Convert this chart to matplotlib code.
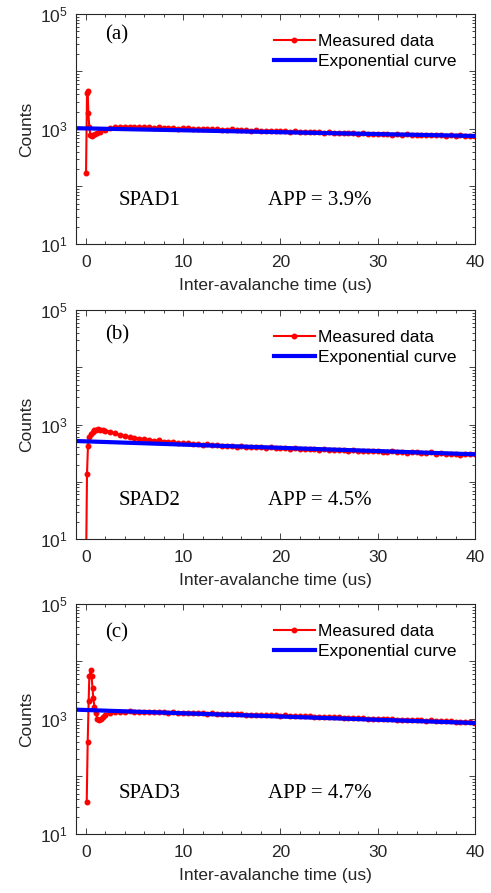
import numpy as np
import matplotlib.pyplot as plt
from matplotlib.ticker import FixedLocator, FuncFormatter, LogLocator, MultipleLocator

plt.rcParams['font.family'] = ['Liberation Sans', 'DejaVu Sans']
plt.rcParams['mathtext.fontset'] = 'custom'
plt.rcParams['mathtext.rm'] = 'Liberation Sans'

# sampling grid of the tail (us), shared by all panels
t_tail = np.arange(2.0, 40.01, 0.5)

# SPAD1
t_early_a = [0.03, 0.13, 0.2, 0.27, 0.37, 0.47, 0.6, 0.75, 0.95, 1.2, 1.5]
n_early_a = [172, 4200, 4600, 1870, 1070, 800, 765, 790, 820, 850, 900]
n_tail_a = [960, 1020, 1060, 1085, 1100, 1090, 1075, 1090, 1065, 1070,
            1045, 1065, 1040, 1030, 1050, 1015, 1030, 1020, 1010, 995,
            1010, 985, 1000, 980, 975, 965, 980, 950, 960, 950,
            935, 950, 930, 920, 935, 910, 915, 905, 900, 910,
            885, 895, 870, 885, 875, 860, 870, 850, 860, 845,
            850, 840, 830, 845, 825, 830, 815, 825, 810, 800,
            815, 795, 805, 785, 800, 790, 780, 790, 770, 785,
            765, 775, 760, 770, 750, 760, 765]
fit_a = [1030, 755]

# SPAD2
t_early_b = [0.03, 0.13, 0.23, 0.35, 0.5, 0.7, 0.9, 1.1, 1.3, 1.5, 1.75]
n_early_b = [3, 137, 430, 600, 680, 740, 790, 815, 825, 815, 800]
n_tail_b = [780, 750, 700, 665, 630, 600, 585, 570, 555, 545,
            525, 530, 505, 500, 490, 480, 470, 475, 455, 460,
            445, 450, 435, 440, 425, 430, 420, 410, 420, 405,
            410, 400, 405, 395, 400, 390, 395, 385, 380, 390,
            375, 380, 370, 375, 365, 370, 360, 365, 355, 360,
            350, 355, 345, 350, 340, 345, 340, 335, 330, 340,
            330, 335, 320, 330, 325, 320, 315, 325, 310, 315,
            310, 305, 310, 295, 300, 305, 300]
fit_b = [515, 302]

# SPAD3
t_early_c = [0.1, 0.2, 0.3, 0.37, 0.5, 0.6, 0.7, 0.77, 0.9, 1.05, 1.2, 1.35, 1.55, 1.8]
n_early_c = [36, 390, 2080, 5500, 7000, 5500, 3400, 2300, 1620, 1270, 1000, 960, 1010, 1080]
n_tail_c = [1150, 1250, 1300, 1320, 1340, 1350, 1345, 1330, 1340, 1320,
            1325, 1300, 1310, 1290, 1300, 1280, 1270, 1285, 1260, 1265,
            1250, 1240, 1255, 1230, 1220, 1235, 1210, 1215, 1200, 1195,
            1180, 1190, 1170, 1160, 1175, 1150, 1145, 1155, 1130, 1125,
            1120, 1105, 1115, 1090, 1095, 1080, 1070, 1080, 1060, 1055,
            1050, 1040, 1030, 1035, 1015, 1010, 1000, 1005, 985, 990,
            975, 965, 970, 950, 955, 940, 935, 945, 920, 925,
            910, 905, 895, 900, 880, 875, 865]
fit_c = [1450, 850]

fit_t = [-1, 40]
letters = ['(a)', '(b)', '(c)']
names = ['SPAD1', 'SPAD2', 'SPAD3']
apps = ['APP = 3.9%', 'APP = 4.5%', 'APP = 4.7%']

panels = [
    (t_early_a, n_early_a, n_tail_a, fit_a),
    (t_early_b, n_early_b, n_tail_b, fit_b),
    (t_early_c, n_early_c, n_tail_c, fit_c),
]

# axes rectangles in figure fractions
rects = [[0.1548, 0.7268, 0.8126, 0.2576],
         [0.1548, 0.3964, 0.8126, 0.2564],
         [0.1548, 0.0661, 0.8126, 0.2576]]
letter_y = [0.91, 0.89, 0.874]
name_y = [0.19, 0.17, 0.174]

serif = ['Liberation Serif', 'DejaVu Serif']
ink = '#262626'


def decade_label(v, pos):
    e = int(round(np.log10(v)))
    if e % 2 == 1:
        return r'$\mathregular{10^{%d}}$' % e
    return ''


fig = plt.figure(figsize=(4.91, 8.93), dpi=100)

for i, (te, ne, nt, fit) in enumerate(panels):
    ax = fig.add_axes(rects[i])
    t = np.concatenate([te, t_tail])
    n = np.concatenate([ne, nt])
    ax.plot(t, n, color='red', lw=1.5, marker='.', ms=6.5, label='Measured data')
    ax.plot(fit_t, fit, color='blue', lw=3, label='Exponential curve')

    ax.set_yscale('log')
    ax.set_ylim(10, 1e5)
    ax.set_xlim(-1, 40)
    ax.yaxis.set_major_locator(FixedLocator([1e1, 1e2, 1e3, 1e4, 1e5]))
    ax.yaxis.set_major_formatter(FuncFormatter(decade_label))
    ax.yaxis.set_minor_locator(LogLocator(base=10, subs=np.arange(2, 10)))
    ax.xaxis.set_major_locator(MultipleLocator(10))
    ax.xaxis.set_minor_locator(MultipleLocator(2))
    ax.tick_params(which='both', direction='in', top=True, right=True,
                   labelsize=12.5, width=0.6, colors=ink)
    ax.tick_params(which='major', length=4)
    ax.tick_params(which='minor', length=2)
    ax.tick_params(axis='x', pad=8)
    ax.tick_params(axis='y', pad=6)
    for s in ax.spines.values():
        s.set_linewidth(0.8)
        s.set_color(ink)

    ax.set_xlabel('Inter-avalanche time (us)', fontsize=12.5, color=ink, labelpad=6)
    ax.set_ylabel('Counts', fontsize=12.5, color=ink, labelpad=4)

    ax.text(0.103, letter_y[i], letters[i], transform=ax.transAxes,
            ha='center', va='center', fontsize=15, family=serif)
    ax.text(0.108, name_y[i], names[i], transform=ax.transAxes,
            ha='left', va='center', fontsize=15, family=serif)
    ax.text(0.48, name_y[i], apps[i], transform=ax.transAxes,
            ha='left', va='center', fontsize=15, family=serif)

    ax.legend(loc='upper left', bbox_to_anchor=(0.47, 0.96), frameon=False,
              fontsize=12.5, numpoints=1, handlelength=2.36, handletextpad=0.2,
              labelspacing=0.32, borderaxespad=0.2)

plt.savefig('out.png', dpi=100)
plt.close()
